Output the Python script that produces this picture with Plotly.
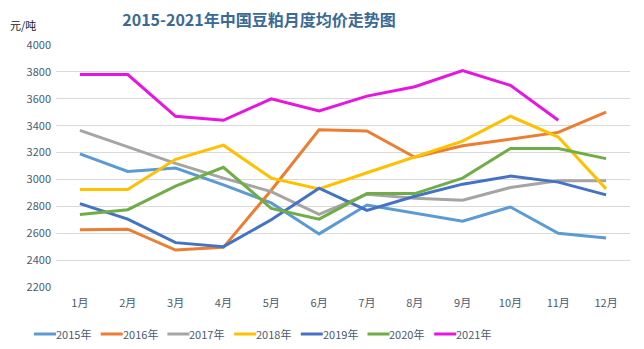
import plotly.graph_objects as go

months = ["1月", "2月", "3月", "4月", "5月", "6月", "7月", "8月", "9月", "10月", "11月", "12月"]

y2015 = [3190, 3060, 3085, 2960, 2825, 2595, 2810, 2750, 2690, 2795, 2600, 2565]
y2016 = [2625, 2630, 2475, 2495, 2920, 3370, 3360, 3165, 3250, 3300, 3350, 3500]
y2017 = [3365, 3240, 3120, 3010, 2910, 2740, 2890, 2860, 2845, 2940, 2990, 2990]
y2018 = [2925, 2925, 3150, 3255, 3010, 2930, 3050, 3165, 3285, 3470, 3315, 2930]
y2019 = [2820, 2705, 2530, 2500, 2700, 2935, 2770, 2875, 2965, 3025, 2980, 2885]
y2020 = [2740, 2775, 2950, 3090, 2785, 2705, 2895, 2895, 3010, 3230, 3230, 3155]
y2021 = [3780, 3780, 3470, 3440, 3600, 3510, 3620, 3690, 3810, 3700, 3440]

series = [
    ("2015年", y2015, "#5B9BD5"),
    ("2016年", y2016, "#ED7D31"),
    ("2017年", y2017, "#A5A5A5"),
    ("2018年", y2018, "#FFC000"),
    ("2019年", y2019, "#4472C4"),
    ("2020年", y2020, "#70AD47"),
    ("2021年", y2021, "#E815E0"),
]

font_family = "Noto Sans CJK SC, Noto Sans, sans-serif"
tick_color = "#4a5a72"

W, H = 644, 349
ML, MR, MT, MB = 56, 14, 45, 62
PW, PH = W - ML - MR, H - MT - MB


def px_x(x):
    return (x - ML) / PW


def px_y(y):
    return (H - MB - y) / PH


fig = go.Figure()
for name, vals, color in series:
    fig.add_trace(go.Scatter(
        x=months[:len(vals)], y=vals, name=name, mode="lines",
        line=dict(color=color, width=3), showlegend=False,
    ))

# compact legend row below the axis: short line swatch followed by the label
legend_x0, legend_step, legend_y, swatch = 34, 66.7, 334, 22
for i, (name, _, color) in enumerate(series):
    x0 = legend_x0 + i * legend_step
    fig.add_shape(
        type="line", xref="paper", yref="paper",
        x0=px_x(x0), x1=px_x(x0 + swatch), y0=px_y(legend_y), y1=px_y(legend_y),
        line=dict(color=color, width=3),
    )
    fig.add_annotation(
        text=name, xref="paper", yref="paper",
        x=px_x(x0 + swatch), xanchor="left", y=px_y(legend_y), yanchor="middle",
        showarrow=False, xshift=-2,
        font=dict(size=11, color=tick_color, family=font_family),
    )

fig.update_layout(
    width=W, height=H,
    margin=dict(l=ML, r=MR, t=MT, b=MB, autoexpand=False),
    paper_bgcolor="white", plot_bgcolor="white",
    font=dict(family=font_family, size=11, color=tick_color),
    title=dict(
        text="<b>2015-2021年中国豆粕月度均价走势图</b>",
        x=259 / W, xanchor="center", y=1 - 20 / H, yanchor="middle",
        font=dict(size=16, color="#3A6A96", family=font_family),
    ),
    showlegend=False,
    xaxis=dict(
        categoryorder="array", categoryarray=months,
        range=[-0.5, 11.5],
        showgrid=False, showline=False, ticks="",
        ticklabelstandoff=8,
        tickfont=dict(size=11, color=tick_color),
    ),
    yaxis=dict(
        range=[2200, 4000], dtick=200,
        showgrid=True, gridcolor="#D9D9D9", gridwidth=1,
        zeroline=False, showline=False, ticks="",
        ticklabelstandoff=4,
        tickfont=dict(size=11, color=tick_color),
    ),
)

fig.add_annotation(
    text="元/吨", xref="paper", yref="paper",
    x=px_x(8), xanchor="left", y=px_y(25), yanchor="middle",
    showarrow=False, font=dict(size=11, color="#222222", family=font_family),
)

fig.write_html("out.html")
